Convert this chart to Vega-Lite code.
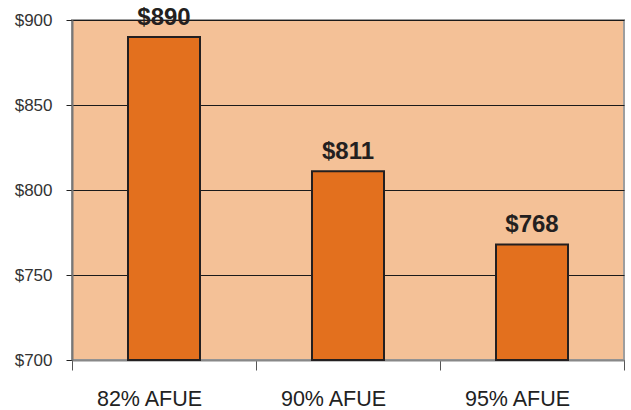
{
  "$schema": "https://vega.github.io/schema/vega-lite/v6.json",
  "autosize": "none",
  "padding": {"left": 72, "top": 20, "right": 7, "bottom": 50},
  "width": 552,
  "height": 340,
  "background": "white",
  "config": {
    "view": {"fill": "#F4C197", "stroke": "#9E9E9E", "strokeWidth": 2},
    "font": "Liberation Sans"
  },
  "data": {
    "values": [
      {"type": "82% AFUE", "cost": 890},
      {"type": "90% AFUE", "cost": 811},
      {"type": "95% AFUE", "cost": 768}
    ]
  },
  "encoding": {
    "x": {
      "field": "type",
      "type": "nominal",
      "sort": null,
      "scale": {"padding": 0},
      "axis": {
        "title": null,
        "labelAngle": 0,
        "labelFontSize": 21.5,
        "labelColor": "#222222",
        "labelPadding": 18,
        "labelOffset": -15,
        "tickBand": "extent",
        "tickSize": 10,
        "tickColor": "#555555",
        "domainColor": "#888888",
        "domainWidth": 2,
        "grid": false
      }
    }
  },
  "layer": [
    {
      "mark": {"type": "bar", "size": 72, "fill": "#E3701E", "stroke": "#231F20", "strokeWidth": 2},
      "encoding": {
        "y": {
          "field": "cost",
          "type": "quantitative",
          "scale": {"domain": [700, 900], "nice": false, "zero": false},
          "axis": {
            "title": null,
            "values": [700, 750, 800, 850, 900],
            "format": "$d",
            "labelFontSize": 17,
            "labelColor": "#333333",
            "labelPadding": 14,
            "tickSize": 6,
            "tickColor": "#222222",
            "domainColor": "#777777",
            "domainWidth": 2,
            "grid": true,
            "gridColor": "#1a1a1a",
            "gridWidth": 1,
            "gridOpacity": 1
          }
        },
        "y2": {"datum": 700}
      }
    },
    {
      "mark": {"type": "text", "fontWeight": "bold", "fontSize": 24, "color": "#231F20", "baseline": "alphabetic", "dy": -12},
      "encoding": {
        "y": {"field": "cost", "type": "quantitative"},
        "text": {"field": "cost", "type": "quantitative", "format": "$d"}
      }
    }
  ]
}
